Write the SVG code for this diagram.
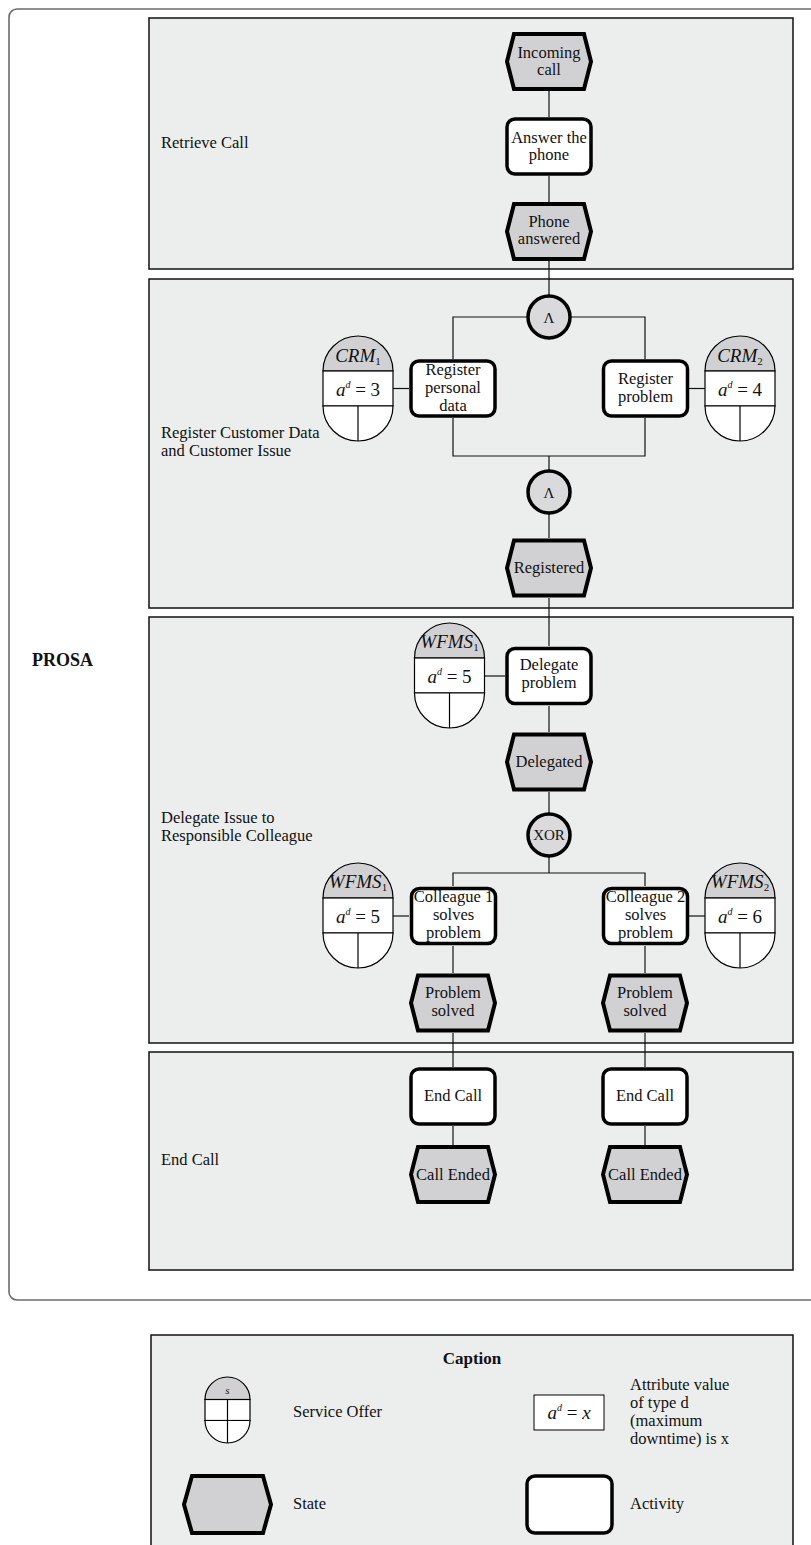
<svg xmlns="http://www.w3.org/2000/svg" xmlns:xlink="http://www.w3.org/1999/xlink" width="811" height="1545" viewBox="0 0 811 1545">
  <style>
    text { font-family: "Liberation Serif", "Times New Roman", serif; fill: #111; }
    .t { font-size: 16.5px; text-anchor: middle; }
    .lbl { font-size: 16.5px; }
    .lane { fill: #eceeed; stroke: #111; stroke-width: 1.5; }
    .state { fill: #d1d1d3; stroke: #000; stroke-width: 4; stroke-linejoin: miter; }
    .act { fill: #fff; stroke: #000; stroke-width: 3.5; }
    .gate { fill: #dadadc; stroke: #000; stroke-width: 3.5; }
    .cap { fill: #d1d1d3; stroke: #000; stroke-width: 1.2; }
    .band { fill: #fff; stroke: #000; stroke-width: 1.2; }
    .conn line, .conn polyline { stroke: #111; stroke-width: 1.2; fill: none; }
    .mi { font-size: 19px; font-style: italic; text-anchor: middle; }
    .sub { font-size: 11px; font-style: normal; }
    .sup { font-size: 10px; font-style: italic; }
    .mr { font-style: normal; }
  </style>
  <defs>
    <!-- state: flattened hexagon centred on the origin -->
    <path id="hex" d="M-35,-27.5 L35,-27.5 L42,0 L35,27.5 L-35,27.5 L-42,0 Z"/>
    <!-- activity: rounded rectangle centred on the origin -->
    <rect id="box" x="-42" y="-27.5" width="84" height="55" rx="8" ry="8"/>
    <!-- service offer: grey cap, attribute band, split foot -->
    <g id="so">
      <path class="cap" d="M-35,-17.5 A35,35 0 0 1 35,-17.5 Z"/>
      <rect class="band" x="-35" y="-17.5" width="70" height="35"/>
      <path class="band" d="M-35,17.5 A35,35 0 0 0 35,17.5 Z"/>
      <line x1="0" y1="17.5" x2="0" y2="52.5" stroke="#000" stroke-width="1.2"/>
    </g>
  </defs>

  <rect x="0" y="0" width="811" height="1545" fill="#fff"/>

  <!-- outer PROSA frame -->
  <rect x="9" y="9" width="830" height="1291" rx="8" ry="8" fill="none" stroke="#6b6b6b" stroke-width="1.6"/>
  <text x="32" y="666" style="font-size:18px;font-weight:bold">PROSA</text>

  <!-- swimlanes -->
  <g id="lanes">
    <rect class="lane" x="149" y="18" width="644" height="251"/>
    <rect class="lane" x="149" y="279" width="644" height="329"/>
    <rect class="lane" x="149" y="617" width="644" height="426"/>
    <rect class="lane" x="149" y="1052" width="644" height="218"/>
    <text class="lbl" x="161" y="148">Retrieve Call</text>
    <text class="lbl" x="161" y="438">Register Customer Data</text>
    <text class="lbl" x="161" y="456">and Customer Issue</text>
    <text class="lbl" x="161" y="823">Delegate Issue to</text>
    <text class="lbl" x="161" y="841">Responsible Colleague</text>
    <text class="lbl" x="161" y="1165">End Call</text>
  </g>

  <!-- connectors -->
  <g id="connectors" class="conn">
    <line x1="549" y1="91" x2="549" y2="117"/>
    <line x1="549" y1="176" x2="549" y2="202"/>
    <line x1="549" y1="261" x2="549" y2="296"/>
    <polyline points="453,359 453,317 645,317 645,359"/>
    <polyline points="453,418 453,456 645,456 645,418"/>
    <line x1="549" y1="456" x2="549" y2="471"/>
    <line x1="549" y1="513" x2="549" y2="538"/>
    <line x1="549" y1="598" x2="549" y2="646"/>
    <line x1="549" y1="706" x2="549" y2="732"/>
    <line x1="549" y1="792" x2="549" y2="814"/>
    <line x1="549" y1="856" x2="549" y2="873"/>
    <polyline points="453,886 453,873 645,873 645,886"/>
    <line x1="453" y1="946" x2="453" y2="973"/>
    <line x1="645" y1="946" x2="645" y2="973"/>
    <line x1="453" y1="1033" x2="453" y2="1067"/>
    <line x1="645" y1="1033" x2="645" y2="1067"/>
    <line x1="453" y1="1126" x2="453" y2="1145"/>
    <line x1="645" y1="1126" x2="645" y2="1145"/>
    <line x1="393" y1="388.5" x2="409" y2="388.5"/>
    <line x1="689" y1="388.5" x2="705" y2="388.5"/>
    <line x1="484" y1="676" x2="505" y2="676"/>
    <line x1="393" y1="916" x2="409" y2="916"/>
    <line x1="689" y1="916" x2="705" y2="916"/>
  </g>

  <!-- Retrieve Call -->
  <g id="incoming-call">
    <use xlink:href="#hex" class="state" x="549" y="61.5"/>
    <text class="t" x="549" y="58">Incoming</text>
    <text class="t" x="549" y="75">call</text>
  </g>
  <g id="answer-phone">
    <use xlink:href="#box" class="act" x="549" y="146.5"/>
    <text class="t" x="549" y="143">Answer the</text>
    <text class="t" x="549" y="160">phone</text>
  </g>
  <g id="phone-answered">
    <use xlink:href="#hex" class="state" x="549" y="231.5"/>
    <text class="t" x="549" y="227">Phone</text>
    <text class="t" x="549" y="244">answered</text>
  </g>

  <!-- Register Customer Data and Customer Issue -->
  <g id="and-split">
    <circle class="gate" cx="549" cy="317" r="21"/>
    <text class="t" x="549" y="323" style="font-size:15px">Λ</text>
  </g>
  <g id="register-personal">
    <use xlink:href="#box" class="act" x="453" y="388.5"/>
    <text class="t" x="453" y="375">Register</text>
    <text class="t" x="453" y="393">personal</text>
    <text class="t" x="453" y="411">data</text>
  </g>
  <g id="register-problem">
    <use xlink:href="#box" class="act" x="645.5" y="388.5"/>
    <text class="t" x="645.5" y="384">Register</text>
    <text class="t" x="645.5" y="402">problem</text>
  </g>
  <g id="crm1">
    <use xlink:href="#so" x="358" y="388.5"/>
    <text class="mi" x="358" y="362">CRM<tspan class="sub" dy="3">1</tspan></text>
    <text class="mi" x="358" y="396">a<tspan class="sup" dy="-8">d</tspan><tspan class="mr" dy="8"> = 3</tspan></text>
  </g>
  <g id="crm2">
    <use xlink:href="#so" x="740" y="388.5"/>
    <text class="mi" x="740" y="362">CRM<tspan class="sub" dy="3">2</tspan></text>
    <text class="mi" x="740" y="396">a<tspan class="sup" dy="-8">d</tspan><tspan class="mr" dy="8"> = 4</tspan></text>
  </g>
  <g id="and-join">
    <circle class="gate" cx="549" cy="492" r="21"/>
    <text class="t" x="549" y="498" style="font-size:15px">Λ</text>
  </g>
  <g id="registered">
    <use xlink:href="#hex" class="state" x="549" y="568"/>
    <text class="t" x="549" y="573">Registered</text>
  </g>

  <!-- Delegate Issue to Responsible Colleague -->
  <g id="wfms1-delegate">
    <use xlink:href="#so" x="449.5" y="675.5"/>
    <text class="mi" x="449.5" y="648">WFMS<tspan class="sub" dy="3">1</tspan></text>
    <text class="mi" x="449.5" y="683">a<tspan class="sup" dy="-8">d</tspan><tspan class="mr" dy="8"> = 5</tspan></text>
  </g>
  <g id="delegate-problem">
    <use xlink:href="#box" class="act" x="549" y="676"/>
    <text class="t" x="549" y="670">Delegate</text>
    <text class="t" x="549" y="688">problem</text>
  </g>
  <g id="delegated">
    <use xlink:href="#hex" class="state" x="549" y="762"/>
    <text class="t" x="549" y="767">Delegated</text>
  </g>
  <g id="xor">
    <circle class="gate" cx="549" cy="835" r="21"/>
    <text class="t" x="549" y="840" style="font-size:15px">XOR</text>
  </g>
  <g id="wfms1-colleague">
    <use xlink:href="#so" x="358" y="915.5"/>
    <text class="mi" x="358" y="888">WFMS<tspan class="sub" dy="3">1</tspan></text>
    <text class="mi" x="358" y="923">a<tspan class="sup" dy="-8">d</tspan><tspan class="mr" dy="8"> = 5</tspan></text>
  </g>
  <g id="wfms2-colleague">
    <use xlink:href="#so" x="740" y="915.5"/>
    <text class="mi" x="740" y="888">WFMS<tspan class="sub" dy="3">2</tspan></text>
    <text class="mi" x="740" y="923">a<tspan class="sup" dy="-8">d</tspan><tspan class="mr" dy="8"> = 6</tspan></text>
  </g>
  <g id="colleague1">
    <use xlink:href="#box" class="act" x="453.5" y="916"/>
    <text class="t" x="453.5" y="902">Colleague 1</text>
    <text class="t" x="453.5" y="920">solves</text>
    <text class="t" x="453.5" y="938">problem</text>
  </g>
  <g id="colleague2">
    <use xlink:href="#box" class="act" x="645.5" y="916"/>
    <text class="t" x="645.5" y="902">Colleague 2</text>
    <text class="t" x="645.5" y="920">solves</text>
    <text class="t" x="645.5" y="938">problem</text>
  </g>
  <g id="solved1">
    <use xlink:href="#hex" class="state" x="453" y="1003"/>
    <text class="t" x="453" y="998">Problem</text>
    <text class="t" x="453" y="1016">solved</text>
  </g>
  <g id="solved2">
    <use xlink:href="#hex" class="state" x="645" y="1003"/>
    <text class="t" x="645" y="998">Problem</text>
    <text class="t" x="645" y="1016">solved</text>
  </g>

  <!-- End Call -->
  <g id="end-call1">
    <use xlink:href="#box" class="act" x="453" y="1096.5"/>
    <text class="t" x="453" y="1101">End Call</text>
  </g>
  <g id="end-call2">
    <use xlink:href="#box" class="act" x="645" y="1096.5"/>
    <text class="t" x="645" y="1101">End Call</text>
  </g>
  <g id="call-ended1">
    <use xlink:href="#hex" class="state" x="453" y="1174.5"/>
    <text class="t" x="453" y="1180">Call Ended</text>
  </g>
  <g id="call-ended2">
    <use xlink:href="#hex" class="state" x="645" y="1174.5"/>
    <text class="t" x="645" y="1180">Call Ended</text>
  </g>

  <!-- legend -->
  <g id="caption">
    <rect class="lane" x="151" y="1335" width="642" height="215"/>
    <text x="472" y="1364" style="font-size:17px;font-weight:bold;text-anchor:middle">Caption</text>
    <g id="legend-service-offer">
      <path class="cap" d="M205,1399.5 A22.5,22.5 0 0 1 250,1399.5 Z"/>
      <rect class="band" x="205" y="1399.5" width="45" height="21"/>
      <path class="band" d="M205,1420.5 A22.5,22.5 0 0 0 250,1420.5 Z"/>
      <line x1="227.5" y1="1399.5" x2="227.5" y2="1443" stroke="#000" stroke-width="1.2"/>
      <text x="227.5" y="1394" style="font-size:11px;font-style:italic;text-anchor:middle">s</text>
      <text class="lbl" x="293" y="1417">Service Offer</text>
    </g>
    <g id="legend-attribute">
      <rect x="534" y="1395" width="70" height="35" fill="#fff" stroke="#000" stroke-width="1"/>
      <text class="mi" x="569" y="1419">a<tspan class="sup" dy="-8">d</tspan><tspan class="mr" dy="8"> = </tspan><tspan dy="0">x</tspan></text>
      <text class="lbl" x="630" y="1390">Attribute value</text>
      <text class="lbl" x="630" y="1408">of type d</text>
      <text class="lbl" x="630" y="1426">(maximum</text>
      <text class="lbl" x="630" y="1444">downtime) is x</text>
    </g>
    <g id="legend-state">
      <path class="state" d="M192,1476 L263,1476 L271,1504.5 L263,1533 L192,1533 L184,1504.5 Z"/>
      <text class="lbl" x="293" y="1509">State</text>
    </g>
    <g id="legend-activity">
      <rect class="act" x="527" y="1476" width="85" height="57" rx="8" ry="8"/>
      <text class="lbl" x="630" y="1509">Activity</text>
    </g>
  </g>
</svg>
